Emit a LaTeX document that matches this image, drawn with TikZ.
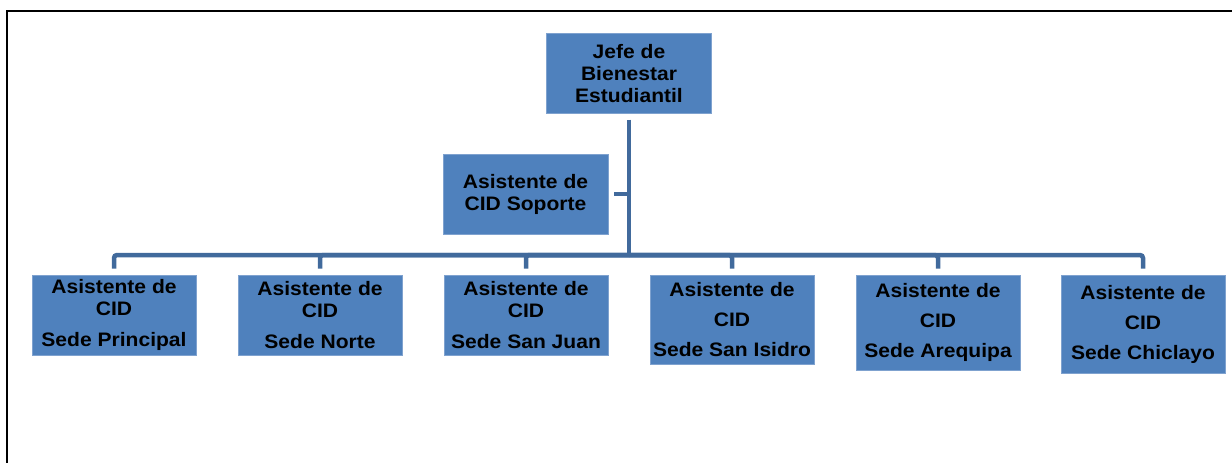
\documentclass[tikz,border=0pt]{standalone}
\usepackage{fontspec}
\newfontfamily\cidfont[FakeStretch=1.08]{Liberation Sans}
\definecolor{boxblue}{HTML}{4F81BD}
\definecolor{boxedge}{HTML}{7FA2CF}
\definecolor{connblue}{HTML}{416A9C}
\begin{document}
\begin{tikzpicture}[x=1pt,y=-1pt,
  orgbox/.style={rectangle, fill=boxblue, draw=boxedge, line width=0.8pt,
    minimum width=164pt, inner xsep=0pt, inner ysep=0pt, align=center,
    text=black, font=\cidfont\bfseries\fontsize{19.5}{22}\selectfont},
  conn/.style={draw=connblue, line width=4.5pt},
  frameline/.style={draw=black, line width=2pt}
]
\useasboundingbox (0,0) rectangle (1232,463);
% frame
\draw[frameline] (7,463) -- (7,11) -- (1232,11);

% boxes
\node[orgbox, minimum width=165pt, minimum height=80pt] (jefe) at (629,73.3) {Jefe de\\Bienestar\\Estudiantil};
\node[orgbox, minimum width=165pt, minimum height=80pt] (sop) at (525.5,194) {Asistente de\\CID Soporte};
\node[orgbox, minimum height=80pt] (b1) at (114,315) {Asistente de\\CID\\[9pt]Sede Principal};
\node[orgbox, minimum height=80pt] (b2) at (320,315) {Asistente de\\CID\\[9pt]Sede Norte};
\node[orgbox, minimum height=80pt] (b3) at (526,315) {Asistente de\\CID\\[9pt]Sede San Juan};
\node[orgbox, minimum height=89pt] (b4) at (732,319.5) {Asistente de\\[8pt]CID\\[8pt]Sede San Isidro};
\node[orgbox, minimum height=95pt] (b5) at (938,322.5) {Asistente de\\[8pt]CID\\[8pt]Sede Arequipa};
\node[orgbox, minimum height=98pt] (b6) at (1143,324) {Asistente de\\[8pt]CID\\[8pt]Sede Chiclayo};

% connectors
\coordinate (bus) at (629,255);
\draw[conn, shorten <=6pt] (jefe.south) -- (bus);
\draw[conn, shorten <=6pt] (sop.east) -- (sop.east -| jefe.south);
\foreach \b in {b1,b2,b3,b4,b5,b6}{
  \draw[conn, rounded corners=3pt, shorten >=6pt] (bus) -| (\b.north);
}
\end{tikzpicture}
\end{document}
